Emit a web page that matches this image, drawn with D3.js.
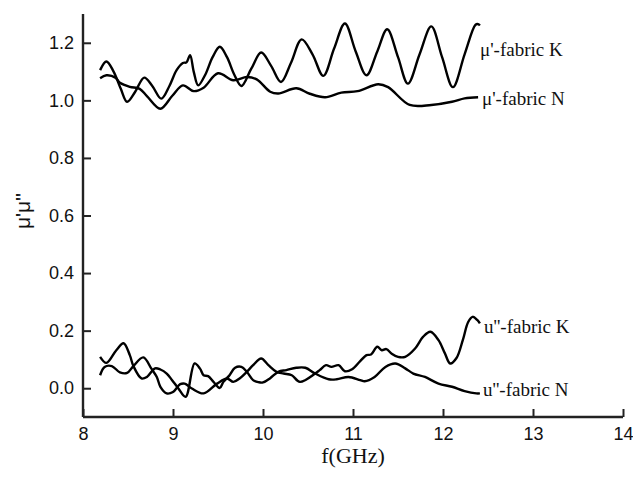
<!DOCTYPE html>
<html lang="en">
<head>
    <meta charset="UTF-8">
    <title>mu' mu'' vs frequency</title>
    <style>
        body {
            margin: 0;
            background: #fff;
        }
        .tick text {
            font-family: Arial, "Liberation Sans", sans-serif;
        }
    </style>
</head>
<body>
    <div id="chart"></div>
    <script src="https://d3js.org/d3.v7.min.js"></script>
    <script>
        // frequency (GHz), value pairs
        var muKReal = [
            [8.19, 1.105], [8.26, 1.135], [8.34, 1.10], [8.42, 1.04], [8.49, 0.995],
            [8.58, 1.03], [8.68, 1.079], [8.77, 1.05], [8.87, 1.006], [8.96, 1.05],
            [9.04, 1.105], [9.11, 1.13], [9.15, 1.132], [9.19, 1.157], [9.23, 1.10],
            [9.28, 1.052], [9.36, 1.09], [9.44, 1.15], [9.52, 1.186], [9.60, 1.15],
            [9.68, 1.09], [9.76, 1.05], [9.87, 1.11], [9.98, 1.166], [10.09, 1.12],
            [10.20, 1.064], [10.31, 1.13], [10.43, 1.212], [10.55, 1.16], [10.67, 1.085],
            [10.79, 1.18], [10.91, 1.267], [11.03, 1.17], [11.15, 1.087], [11.27, 1.17],
            [11.38, 1.247], [11.50, 1.15], [11.61, 1.058], [11.74, 1.16], [11.87, 1.257],
            [11.99, 1.15], [12.11, 1.046], [12.24, 1.16], [12.36, 1.262], [12.39, 1.265],
            [12.41, 1.26]
        ];
        var muNReal = [
            [8.19, 1.077], [8.26, 1.087], [8.36, 1.079], [8.41, 1.061], [8.52, 1.047],
            [8.63, 1.04], [8.71, 1.015], [8.86, 0.971], [8.99, 1.015], [9.11, 1.052],
            [9.23, 1.032], [9.34, 1.044], [9.50, 1.094], [9.67, 1.07], [9.82, 1.081],
            [9.93, 1.073], [10.08, 1.03], [10.17, 1.024], [10.37, 1.042], [10.52, 1.023],
            [10.69, 1.011], [10.87, 1.027], [11.05, 1.032], [11.28, 1.056], [11.39, 1.046],
            [11.63, 0.984], [11.87, 0.984], [12.10, 0.995], [12.24, 1.007], [12.39, 1.011]
        ];
        var muKImag = [
            [8.19, 0.045], [8.24, 0.074], [8.32, 0.077], [8.41, 0.055], [8.49, 0.053],
            [8.56, 0.077], [8.67, 0.107], [8.76, 0.068], [8.82, 0.039], [8.86, 0.005],
            [8.93, -0.018], [9.00, -0.013], [9.08, 0.014], [9.13, 0.016], [9.21, -0.001],
            [9.34, -0.018], [9.49, 0.016], [9.60, 0.034], [9.67, 0.022], [9.74, 0.034],
            [9.82, 0.057], [9.89, 0.08], [9.98, 0.103], [10.06, 0.08], [10.15, 0.057],
            [10.23, 0.051], [10.32, 0.045], [10.41, 0.022], [10.58, 0.051], [10.63, 0.063],
            [10.70, 0.08], [10.76, 0.074], [10.84, 0.08], [10.91, 0.059], [10.99, 0.066],
            [11.08, 0.094], [11.15, 0.115], [11.20, 0.117], [11.27, 0.144], [11.32, 0.132],
            [11.37, 0.136], [11.43, 0.12], [11.50, 0.109], [11.58, 0.109], [11.69, 0.138],
            [11.78, 0.179], [11.86, 0.196], [11.95, 0.167], [12.02, 0.122], [12.08, 0.086],
            [12.15, 0.105], [12.22, 0.167], [12.28, 0.23], [12.33, 0.248], [12.38, 0.237],
            [12.41, 0.225]
        ];
        var muNImag = [
            [8.19, 0.109], [8.26, 0.088], [8.37, 0.132], [8.45, 0.156], [8.52, 0.115],
            [8.56, 0.077], [8.65, 0.034], [8.71, 0.039], [8.80, 0.069], [8.86, 0.065],
            [8.93, 0.051], [8.99, 0.028], [9.06, -0.001], [9.14, -0.03], [9.24, 0.086],
            [9.30, 0.068], [9.34, 0.045], [9.39, 0.042], [9.45, 0.022], [9.52, 0.001],
            [9.56, 0.022], [9.62, 0.042], [9.69, 0.071], [9.76, 0.074], [9.82, 0.057],
            [9.89, 0.028], [9.95, 0.021], [10.00, 0.02], [10.08, 0.035], [10.17, 0.057],
            [10.26, 0.063], [10.37, 0.071], [10.47, 0.071], [10.58, 0.051], [10.73, 0.031],
            [10.82, 0.031], [10.95, 0.039], [11.08, 0.028], [11.13, 0.024], [11.24, 0.039],
            [11.36, 0.074], [11.47, 0.086], [11.58, 0.069], [11.67, 0.051], [11.80, 0.039],
            [11.95, 0.016], [12.10, 0.005], [12.24, -0.01], [12.37, -0.018], [12.41, -0.018]
        ];
        var xTicks = [8, 9, 10, 11, 12, 13, 14];
        var yTicks = [0.0, 0.2, 0.4, 0.6, 0.8, 1.0, 1.2];
        var seriesNames = ["\u03bc'-fabric K", "\u03bc'-fabric N", "u''-fabric K", "u''-fabric N"];

        var width = 633, height = 478;
        var margin = {left: 83, right: 623, top: 14, bottom: 417};

        var svg = d3.select("#chart")
            .append("svg")
            .attr("width", width)
            .attr("height", height)
            .style("background", "#fff");

        var x = d3.scaleLinear().domain([8, 14]).range([margin.left, margin.right]);
        var y = d3.scaleLinear().domain([-0.1, 1.3]).range([margin.bottom, margin.top]);

        // axes, ticks point inward
        var xAxis = d3.axisBottom(x)
            .tickValues(xTicks)
            .tickSize(-8)
            .tickPadding(10)
            .tickFormat(d3.format("d"));
        var yAxis = d3.axisLeft(y)
            .tickValues(yTicks)
            .tickSize(-8)
            .tickPadding(9)
            .tickFormat(d3.format(".1f"));

        var gx = svg.append("g")
            .attr("transform", "translate(0," + margin.bottom + ")")
            .call(xAxis);
        var gy = svg.append("g")
            .attr("transform", "translate(" + margin.left + ",0)")
            .call(yAxis);

        [gx, gy].forEach(function(g) {
            g.select(".domain").attr("stroke", "#222").attr("stroke-width", 2.4);
            g.selectAll(".tick line").attr("stroke", "#222").attr("stroke-width", 2);
            g.selectAll(".tick text")
                .attr("fill", "#111")
                .style("font-size", "18px");
        });
        // drop the end caps of the domain path
        gx.select(".domain").attr("d", "M" + margin.left + ",0H" + margin.right);
        gy.select(".domain").attr("d", "M0," + margin.top + "V" + margin.bottom);

        var line = d3.line()
            .x(d => x(d[0]))
            .y(d => y(d[1]))
            .curve(d3.curveCatmullRom.alpha(0.5));

        [muKReal, muNReal, muKImag, muNImag].forEach(function(s) {
            svg.append("path")
                .datum(s)
                .attr("fill", "none")
                .attr("stroke", "#000")
                .attr("stroke-width", 2.4)
                .attr("stroke-linejoin", "round")
                .attr("d", line);
        });

        // series labels
        var labelPos = [[480, 56], [482, 105], [484, 333], [483, 396]];
        seriesNames.forEach(function(name, i) {
            svg.append("text")
                .attr("x", labelPos[i][0])
                .attr("y", labelPos[i][1])
                .style("font-family", "'Liberation Serif', 'Times New Roman', serif")
                .style("font-size", "19px")
                .attr("fill", "#111")
                .text(name);
        });

        // axis titles
        svg.append("text")
            .attr("x", (margin.left + margin.right) / 2)
            .attr("y", 463)
            .style("font-family", "'Liberation Serif', 'Times New Roman', serif")
            .style("font-size", "22px")
            .style("text-anchor", "middle")
            .attr("fill", "#111")
            .text("f(GHz)");

        svg.append("text")
            .attr("transform", "translate(30,211) rotate(-90)")
            .style("font-family", "Arial, 'Liberation Sans', sans-serif")
            .style("font-size", "21px")
            .style("text-anchor", "middle")
            .attr("fill", "#111")
            .text("\u03bc'\u03bc''");
    </script>
</body>
</html>
